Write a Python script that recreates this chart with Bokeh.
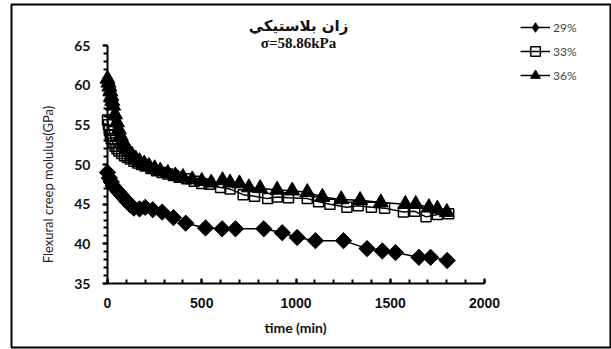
import numpy as np
from bokeh.plotting import figure
from bokeh.models import Range1d, SingleIntervalTicker, Label, Legend, LegendItem
from bokeh.embed import file_html
from bokeh.resources import INLINE

# ---- data ----
t29 = [0, 10, 20, 30, 45, 60, 75, 90, 105, 120, 140, 170, 200, 240, 290, 350, 415,
       520, 608, 679, 829, 927, 1006, 1103, 1252, 1377, 1458, 1528, 1652, 1714, 1802]
v29 = [49.0, 48.3, 47.8, 47.3, 46.9, 46.5, 46.1, 45.7, 45.3, 44.9, 44.5, 44.4, 44.6,
       44.3, 44.0, 43.3, 42.6, 42.0, 41.9, 41.9, 41.9, 41.4, 40.8, 40.4, 40.4, 39.4,
       39.1, 38.9, 38.3, 38.3, 37.9]

t33 = [0, 5, 10, 15, 20, 30, 40, 50, 60, 75, 90, 105, 120, 140, 160, 180, 200, 230,
       260, 290, 320, 350, 380, 420, 460, 500, 540, 600, 650, 720, 780, 850, 900, 960,
       1060, 1120, 1180, 1270, 1330, 1400, 1470, 1570, 1630, 1690, 1750, 1810]
v33 = [55.6, 55.0, 54.3, 53.7, 53.2, 52.7, 52.3, 52.0, 51.7, 51.4, 51.1, 50.9, 50.7,
       50.4, 50.2, 50.0, 49.8, 49.5, 49.2, 49.0, 48.8, 48.6, 48.4, 48.2, 47.9, 47.6,
       47.5, 47.1, 46.9, 46.2, 46.0, 45.7, 45.9, 45.8, 45.7, 45.3, 45.0, 44.6, 44.8,
       44.6, 44.5, 44.0, 44.1, 43.4, 43.7, 43.8]

t36 = [0, 5, 10, 15, 20, 25, 30, 40, 50, 60, 70, 80, 90, 100, 115, 130, 150, 170, 195,
       220, 250, 280, 320, 360, 400, 450, 500, 550, 610, 650, 700, 750, 810, 900, 980,
       1060, 1140, 1240, 1340, 1450, 1580, 1635, 1705, 1750, 1800]
v36 = [60.8, 60.3, 59.8, 59.2, 58.6, 58.0, 57.4, 56.3, 55.3, 54.4, 53.6, 53.0, 52.5,
       52.1, 51.6, 51.2, 50.7, 50.4, 50.1, 49.8, 49.5, 49.2, 48.9, 48.6, 48.4, 48.1,
       47.9, 47.7, 48.0, 47.7, 47.6, 47.1, 47.0, 46.8, 46.7, 46.5, 45.9, 45.6, 45.5,
       45.2, 45.0, 45.0, 44.6, 44.4, 44.0]

series_names = ["29%", "33%", "36%"]
title_ar = "زان بلاستيكي"
title_sigma = "σ=58.86kPa"
x_label = "time (min)"
y_label = "Flexural creep molulus(GPa)"
x_lim = (0, 2000)
y_lim = (35, 65)

# ---- layout (canvas pixels) ----
W, H = 611, 349
FL, FR, FT, FB = 11, 610, 4, 347          # frame box = outer border
AX_L, AX_R, AX_T, AX_B = 107, 484, 45, 283  # plot area (axis positions)

sx = (AX_R - AX_L) / (x_lim[1] - x_lim[0])
sy = (AX_B - AX_T) / (y_lim[1] - y_lim[0])
x_range = Range1d(x_lim[0] - (AX_L - FL) / sx, x_lim[1] + (FR - AX_R) / sx)
y_range = Range1d(y_lim[0] - (FB - AX_B) / sy, y_lim[1] + (AX_T - FT) / sy)

p = figure(frame_width=FR - FL, frame_height=FB - FT,
           min_border_left=FL, min_border_right=W - FR,
           min_border_top=FT, min_border_bottom=H - FB,
           x_range=x_range, y_range=y_range,
           output_backend="svg", toolbar_location=None)
p.outline_line_color = "black"
p.outline_line_width = 2
p.xgrid.visible = False
p.ygrid.visible = False
p.background_fill_color = "white"
p.border_fill_color = "white"

# x axis
xa = p.xaxis[0]
xa.fixed_location = y_lim[0]
xa.bounds = x_lim
xa.ticker = SingleIntervalTicker(interval=500, num_minor_ticks=5)
xa.axis_line_width = 2
xa.axis_line_color = "black"
xa.major_tick_in = 5
xa.major_tick_out = 0
xa.minor_tick_in = 4
xa.minor_tick_out = 0
xa.major_tick_line_width = 2
xa.minor_tick_line_width = 2
xa.major_label_text_font = "Liberation Sans"
xa.major_label_text_font_style = "bold"
xa.major_label_text_font_size = "14px"
xa.major_label_text_color = "#111"
xa.major_label_standoff = 14

# y axis
ya = p.yaxis[0]
ya.fixed_location = x_lim[0]
ya.bounds = y_lim
ya.ticker = SingleIntervalTicker(interval=5, num_minor_ticks=5)
ya.axis_line_width = 2
ya.axis_line_color = "black"
ya.major_tick_in = 0
ya.major_tick_out = 5
ya.minor_tick_in = 0
ya.minor_tick_out = 4
ya.major_tick_line_width = 2
ya.minor_tick_line_width = 2
ya.major_label_text_font = "Lato"
ya.major_label_text_font_style = "bold"
ya.major_label_text_font_size = "14px"
ya.major_label_text_color = "#111"
ya.major_label_standoff = 12

# series
l29 = p.line(t29, v29, line_color="black", line_width=1.5)
m29 = p.scatter(t29, v29, marker="square", angle=np.pi / 4, size=11.5,
                fill_color="black", line_color="black")
l33 = p.line(t33, v33, line_color="black", line_width=1.5)
m33 = p.scatter(t33, v33, marker="square", size=10, fill_color=None,
                line_color="black", line_width=1.5)
l36 = p.line(t36, v36, line_color="black", line_width=1.5)
m36 = p.scatter(t36, v36, marker="triangle", size=15, fill_color="black",
                line_color="black")
# legend-only diamond (the legend does not rotate markers)
k29 = p.scatter(t29[:1], v29[:1], marker="diamond", size=12, fill_color="black",
                line_color="black", visible=False)

legend = Legend(items=[LegendItem(label=series_names[0], renderers=[l29, k29]),
                       LegendItem(label=series_names[1], renderers=[l33, m33]),
                       LegendItem(label=series_names[2], renderers=[l36, m36])],
                location=(520 - FL, FB - 87), glyph_width=30, glyph_height=24,
                spacing=0, padding=0, margin=0, label_standoff=3,
                label_text_font="Lato", label_text_font_size="12px",
                label_text_color="#444", border_line_color=None,
                background_fill_alpha=0)
p.add_layout(legend)

def lab(text, cx, cy, font, style, size, color="#111", angle=0.0):
    p.add_layout(Label(x=cx - FL, y=FB - cy, x_units="screen", y_units="screen",
                       text=text, angle=angle, text_align="center",
                       text_baseline="middle", text_font=font,
                       text_font_style=style, text_font_size=size,
                       text_color=color))

lab(title_ar, 298, 25, "DejaVu Sans", "bold", "15px")
lab(title_sigma, 298, 42, "Liberation Serif", "bold", "15px")
lab(x_label, 295, 327, "Lato", "bold", "14px")
lab(y_label, 47, 184, "Lato", "normal", "13px", color="#222", angle=np.pi / 2)

open("out.html", "w").write(file_html(p, INLINE))
